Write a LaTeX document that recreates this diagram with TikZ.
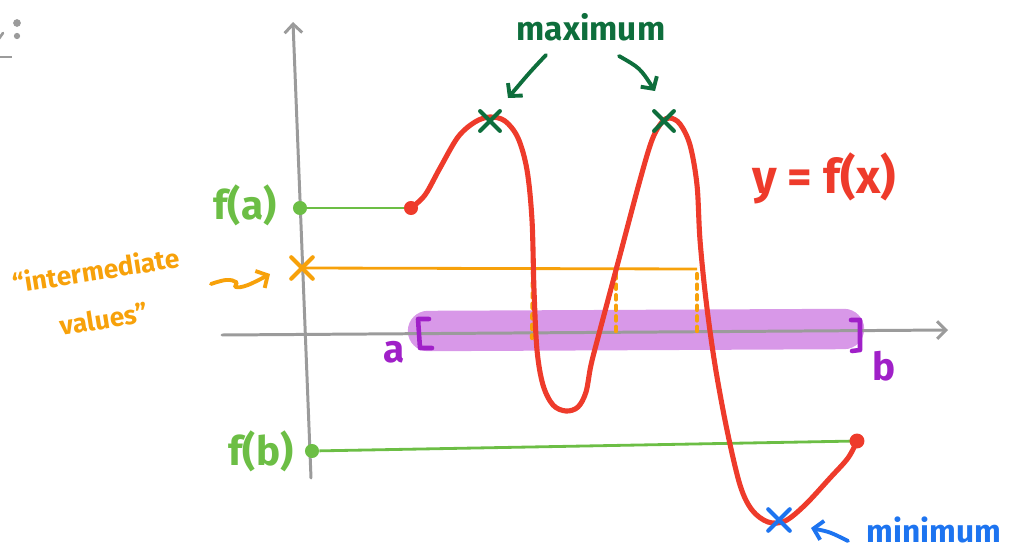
\documentclass[tikz,border=0pt]{standalone}
\usepackage{fontspec}
\newfontfamily\hand{Fira Sans}
\usetikzlibrary{arrows.meta,shapes.misc}
\definecolor{axisgray}{HTML}{9B9B9B}
\definecolor{curvered}{HTML}{EE3B2B}
\definecolor{lgreen}{HTML}{6CBE45}
\definecolor{dgreen}{HTML}{0E6E3C}
\definecolor{ivorange}{HTML}{F7A10A}
\definecolor{bracketpurple}{HTML}{A020C8}
\definecolor{bandpurple}{HTML}{D898E8}
\definecolor{minblue}{HTML}{1D74F0}
\begin{document}
\begin{tikzpicture}[x=0.02cm,y=-0.02cm,
  axisline/.style={axisgray,line width=1.7pt,line cap=round,-{Straight Barb[length=5pt,width=10pt,line width=1.7pt]}},
  curveline/.style={curvered,line width=2.9pt,line cap=round,line join=round},
  dotmark/.style={circle,fill=#1,inner sep=0pt,minimum size=8pt},
  crossmark/.style={cross out,draw=#1,line width=2.3pt,line cap=round,inner sep=0pt,minimum size=9pt},
  handarrow/.style={#1,line width=2.2pt,line cap=round,-{Straight Barb[length=5pt,width=11pt,line width=2.2pt]}},
  ivdash/.style={ivorange,line width=2.4pt,line cap=round,dash pattern=on 2.5pt off 3.5pt},
  lbl/.style={text=#1,font=\hand\bfseries,inner sep=0pt}
  ]
\useasboundingbox (0,0) rectangle (1015,551);
% fragment at top left
\fill[axisgray] (17,23) circle (2.2pt) (17,36) circle (1.8pt);
\draw[axisgray,line width=1.5pt,line cap=round] (-2,40) -- (3,33);
\draw[axisgray,line width=1.2pt] (-2,57) -- (12,57);
% purple band
\coordinate (bandL) at (428,331);
\coordinate (bandR) at (844,329);
\draw[bandpurple,line width=23pt,line cap=round] (bandL) -- (bandR);
% axes
\coordinate (yb) at (311,478);
\coordinate (yt) at (293,22);
\coordinate (xl) at (222,335);
\coordinate (xr) at (948,330);
\draw[axisline] (yb) -- (yt);
\draw[axisline] (xl) -- (xr);
% brackets
\draw[bracketpurple,line width=2.6pt,line cap=round,line join=round] (429,319) -- (418,319) -- (420,348) -- (432,348);
\draw[bracketpurple,line width=2.6pt,line cap=round,line join=round] (851,320) -- (860,320) -- (860,350) -- (852,351);
\node[lbl=bracketpurple,font=\hand\bfseries\fontsize{22}{24}\selectfont] (alabel) at (394,352) {a};
\node[lbl=bracketpurple,font=\hand\bfseries\fontsize{22}{24}\selectfont] (blabel) at (884,366) {b};
% green reference lines
\node[dotmark=lgreen] (fadot) at (300,208) {};
\node[dotmark=lgreen] (fbdot) at (312,451) {};
\coordinate (cstart) at (411,208);
\coordinate (cend) at (857,441);
\draw[lgreen,line width=1.6pt] (fadot) -- (cstart);
\draw[lgreen,line width=1.6pt] (fbdot) -- (cend);
\node[lbl=lgreen,font=\hand\bfseries\fontsize{23}{25}\selectfont] (falabel) at (245,205) {f(a)};
\node[lbl=lgreen,font=\hand\bfseries\fontsize{23}{25}\selectfont] (fblabel) at (261,451) {f(b)};
% intermediate value
\node[crossmark=ivorange,minimum size=10pt] (ivx) at (302,268) {};
\coordinate (ivend) at (697,269);
\draw[ivorange,line width=1.6pt] (ivx.center) -- (ivend);
\coordinate (i1) at (533,272);
\coordinate (i2) at (616,274);
\coordinate (i3) at (697,274);
\coordinate (a1) at (532,338);
\coordinate (a2) at (616,335);
\coordinate (a3) at (697,333);
\draw[ivdash] (i1) -- (a1);
\draw[ivdash] (i2) -- (a2);
\draw[ivdash] (i3) -- (a3);
\coordinate (sqs) at (211,284);
\coordinate (sqe) at (270,274);
\draw[handarrow=ivorange] plot[smooth,tension=0.7] coordinates {(sqs) (226,280) (236,282) (236,287) (248,285) (sqe)};
\node[lbl=ivorange,font=\hand\bfseries\fontsize{15}{17}\selectfont,rotate=9] (ivtext1) at (96,270) {“intermediate};
\node[lbl=ivorange,font=\hand\bfseries\fontsize{15}{17}\selectfont,rotate=9] (ivtext2) at (104,319) {values”};
% the curve
\draw[curveline] plot[smooth,tension=0.55] coordinates {
 (cstart) (425,195) (440,168) (458,137) (475,122) (490,117) (505,121) (518,138)
 (527,170) (532,220) (534,290) (537,350) (543,385) (553,405) (566,411) (578,407)
 (586,392) (591,365) (600,330) (620,255) (640,180) (652,140) (662,122) (670,118)
 (680,124) (690,145) (697,185) (700,240) (706,300) (715,365) (727,430) (740,485)
 (752,510) (768,522) (785,521) (805,505) (830,478) (848,458) (cend)};
\node[dotmark=curvered] (sdot) at (cstart) {};
\node[dotmark=curvered,minimum size=8.5pt] (edot) at (cend) {};
\node[lbl=curvered,font=\hand\bfseries\fontsize{27}{30}\selectfont] (ylabel) at (824,178) {y = f(x)};
% maxima
\node[crossmark=dgreen] (max1) at (490,121) {};
\node[crossmark=dgreen] (max2) at (664,121) {};
\node[lbl=dgreen,font=\hand\bfseries\fontsize{19}{22}\selectfont] (maxlabel) at (591,27) {maximum};
\coordinate (m1s) at (546,55);
\coordinate (m1e) at (508,98);
\coordinate (m2s) at (619,56);
\coordinate (m2e) at (655,91);
\draw[handarrow=dgreen] (m1s) .. controls (530,72) .. (m1e);
\draw[handarrow=dgreen] (m2s) .. controls (640,68) .. (m2e);
% minimum
\node[crossmark=minblue,minimum size=10pt] (min1) at (779,520) {};
\coordinate (bs) at (848,541);
\coordinate (be) at (811,528);
\draw[handarrow=minblue] (bs) .. controls (830,532) .. (be);
\node[lbl=minblue,font=\hand\bfseries\fontsize{18}{20}\selectfont] (minlabel) at (934,530) {minimum};
\end{tikzpicture}
\end{document}
